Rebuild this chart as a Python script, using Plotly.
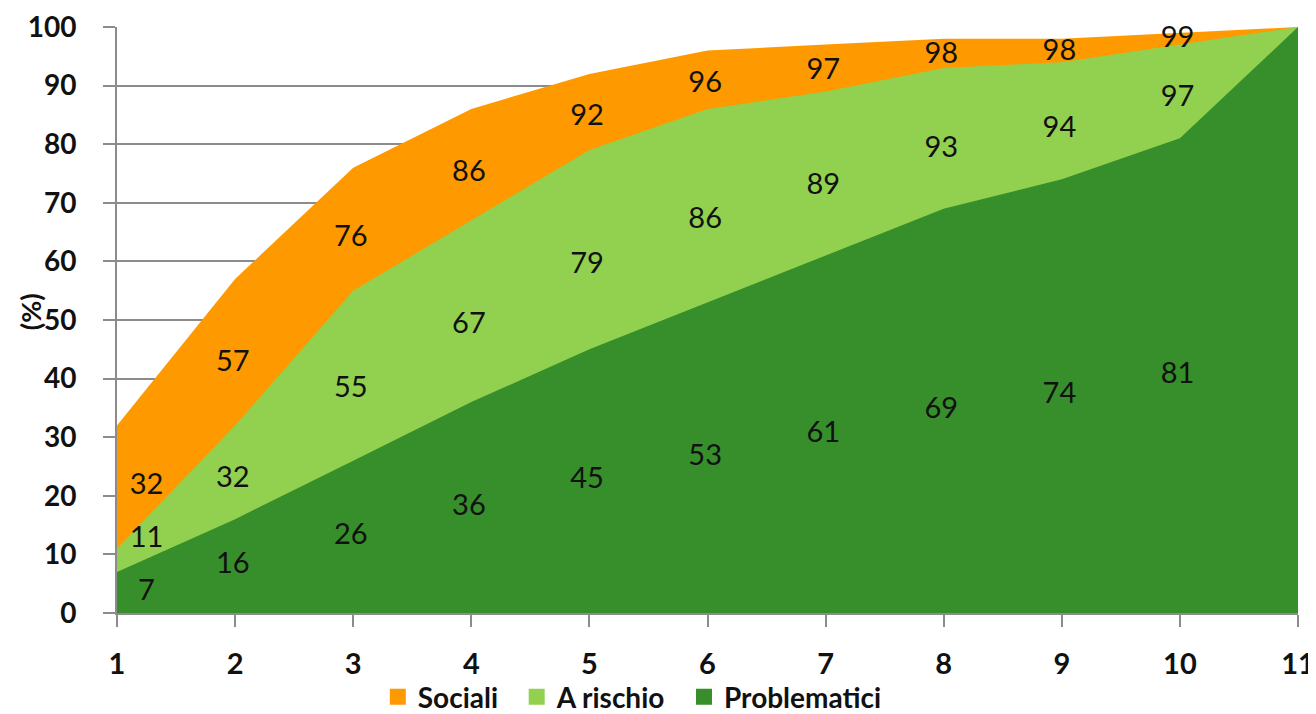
import plotly.graph_objects as go

categories = [1, 2, 3, 4, 5, 6, 7, 8, 9, 10, 11]
sociali = [32, 57, 76, 86, 92, 96, 97, 98, 98, 99, 100]
a_rischio = [11, 32, 55, 67, 79, 86, 89, 93, 94, 97, 100]
problematici = [7, 16, 26, 36, 45, 53, 61, 69, 74, 81, 100]
series_names = ["Sociali", "A rischio", "Problematici"]
colors = ["#FF9900", "#92D050", "#368F2A"]
y_ticks = [0, 10, 20, 30, 40, 50, 60, 70, 80, 90, 100]

FONT = "Lato"
fig = go.Figure()

series = [sociali, a_rischio, problematici]
for name, vals, col in zip(series_names, series, colors):
    fig.add_trace(go.Scatter(
        x=categories, y=vals, name=name, mode="lines",
        line=dict(width=0, color=col), fill="tozeroy", fillcolor=col,
        hoverinfo="x+y+name", showlegend=False,
    ))

# legend entries with square swatches
for k, (name, col) in enumerate(zip(series_names, colors)):
    pad = "\u00a0\u00a0" if k < len(series_names) - 1 else ""
    fig.add_trace(go.Scatter(
        x=[None], y=[None], name=name + pad, mode="markers",
        marker=dict(symbol="square", size=18, color=col), showlegend=True,
    ))

# value labels placed inside each band (last category unlabeled)
zeros = [0] * len(categories)
band_low = {"Sociali": a_rischio, "A rischio": problematici, "Problematici": zeros}
band_frac = {"Sociali": 0.42, "A rischio": 0.42, "Problematici": 0.5}
label_y = {n: [] for n in series_names}
for i in range(len(categories) - 1):
    prev = None
    for name, vals in reversed(list(zip(series_names, series))):
        lo = band_low[name][i]
        y = lo + band_frac[name] * (vals[i] - lo)
        if prev is not None and y < prev + 9:
            y = prev + 9
        label_y[name].append(y)
        prev = y

for name, vals in zip(series_names, series):
    xs = [c + (0.25 if i == 0 else -0.02) for i, c in enumerate(categories[:-1])]
    fig.add_trace(go.Scatter(
        x=xs, y=label_y[name], text=[str(v) for v in vals[:-1]], mode="text",
        showlegend=False, hoverinfo="skip",
        textfont=dict(family=FONT, size=29, color="#111111"), cliponaxis=False,
    ))

fig.add_annotation(
    text="<b>(%)</b>", xref="paper", yref="paper", x=-0.0737, y=0.515,
    xanchor="center", yanchor="middle",
    textangle=-90, showarrow=False, font=dict(family=FONT, size=27, color="#111111"),
)

fig.update_layout(
    width=1316, height=714,
    margin=dict(l=109, r=26, t=19, b=109, autoexpand=False),
    plot_bgcolor="white", paper_bgcolor="white",
    showlegend=True,
    legend=dict(orientation="h", xref="container", x=0.281, xanchor="left",
                yref="container", y=0.035, yanchor="middle",
                bgcolor="rgba(0,0,0,0)",
                font=dict(family=FONT, size=28, color="#111111", weight="bold"),
                traceorder="normal", itemwidth=30, tracegroupgap=0),
    xaxis=dict(range=[1, 11], tickvals=categories, ticktext=[str(c) for c in categories],
               showgrid=False, showline=True, linecolor="#8C8C8C", linewidth=2,
               ticks="outside", ticklen=12, tickwidth=2, tickcolor="#8C8C8C",
               ticklabelstandoff=12,
               tickfont=dict(family=FONT, size=29, color="#111111", weight="bold"),
               zeroline=False),
    yaxis=dict(range=[0, 100], tickvals=y_ticks,
               showgrid=True, gridcolor="#8C8C8C", gridwidth=2,
               showline=True, linecolor="#8C8C8C", linewidth=2,
               ticks="outside", ticklen=12, tickwidth=2, tickcolor="#8C8C8C",
               ticklabelstandoff=21,
               tickfont=dict(family=FONT, size=28, color="#111111", weight="bold"),
               zeroline=False, layer="below traces"),
)

fig.write_html("out.html")
